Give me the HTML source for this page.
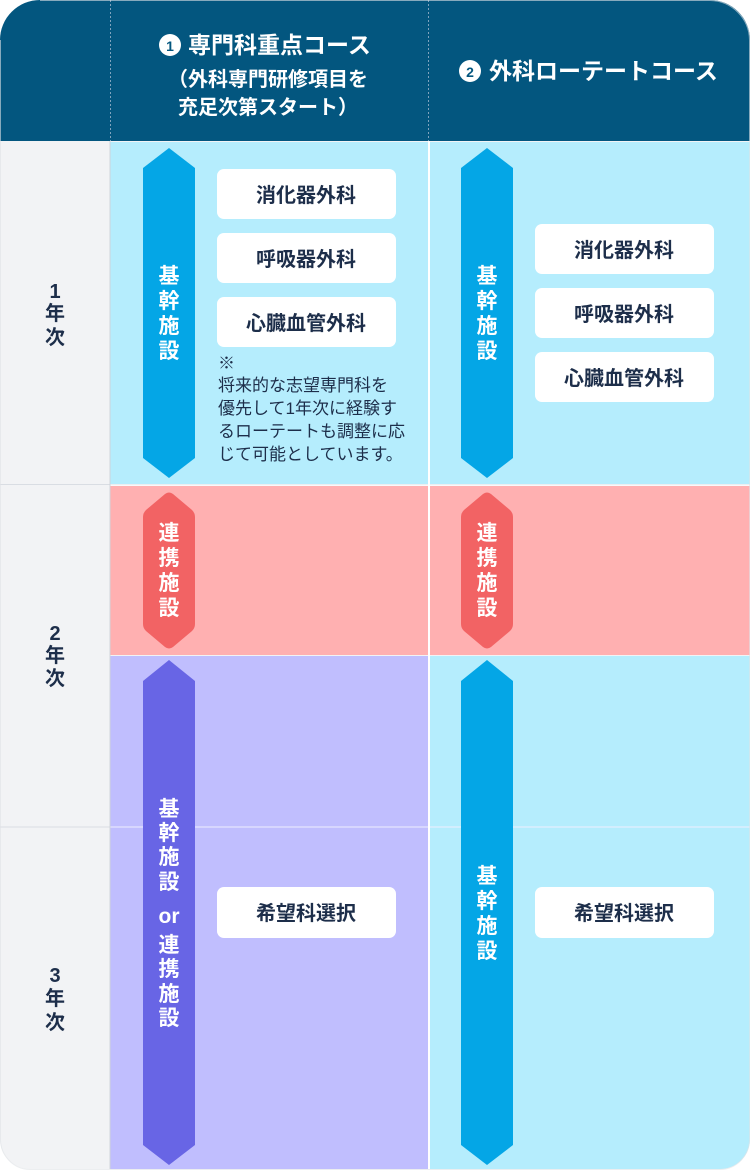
<!DOCTYPE html>
<html><head><meta charset="utf-8"><style>
html,body{margin:0;padding:0;background:#fff;}
svg{display:block;}
text{font-family:"Liberation Sans","Noto Sans CJK JP",sans-serif;}
</style></head><body>
<svg width="750" height="1171" viewBox="0 0 750 1171" xmlns="http://www.w3.org/2000/svg">
<defs>
<clipPath id="c"><path d="M40,0 H710 A40,40 0 0 1 750,40 V1139 A30,30 0 0 1 720,1169 H30 A30,30 0 0 1 0,1139 V40 A40,40 0 0 1 40,0Z"/></clipPath>
</defs>
<g clip-path="url(#c)">
<rect x="0" y="0" width="750" height="1171" fill="#f2f3f5"/>
<rect x="0" y="0" width="750" height="141" fill="#03567f"/>
<line x1="110.5" y1="0" x2="110.5" y2="141" stroke="#7fa3bd" stroke-dasharray="2,2"/>
<line x1="428.5" y1="0" x2="428.5" y2="141" stroke="#7fa3bd" stroke-dasharray="2,2"/>
<rect x="110" y="142" width="318" height="342" fill="#b5edfd"/>
<rect x="430" y="142" width="320" height="342" fill="#b5edfd"/>
<rect x="110" y="486" width="318" height="169" fill="#ffb0b1"/>
<rect x="430" y="486" width="320" height="169" fill="#ffb0b1"/>
<rect x="110" y="656" width="318" height="515" fill="#c0befe"/>
<rect x="430" y="656" width="320" height="515" fill="#b5edfd"/>
<line x1="0" y1="484.5" x2="750" y2="484.5" stroke="#d9dde3"/>
<line x1="110" y1="485" x2="750" y2="485" stroke="#fff"/>
<line x1="0" y1="827" x2="750" y2="827" stroke="#d9dde3"/>
<line x1="110" y1="827" x2="750" y2="827" stroke="#eef"/>
<line x1="429" y1="141" x2="429" y2="1171" stroke="#fff" stroke-width="2"/>
<line x1="110" y1="141" x2="110" y2="1171" stroke="#d0d4da"/>
</g>
<path d="M40,0.5 H710 A40,40 0 0 1 749.5,40 V1139 A30,30 0 0 1 720,1169.5 H30 A30,30 0 0 1 0.5,1139 V40" fill="none" stroke="#dfe2e6" stroke-width="1" opacity="0.6"/>

<!-- header -->
<circle cx="170" cy="45" r="11" fill="#fff"/>
<text x="170" y="51" font-size="14" font-weight="bold" fill="#03567f" text-anchor="middle">1</text>
<text x="188" y="53" font-size="23" font-weight="bold" fill="#fff">専門科重点コース</text>
<text x="268" y="86" font-size="20" font-weight="bold" fill="#fff" text-anchor="middle">（外科専門研修項目を</text>
<text x="268" y="114" font-size="20" font-weight="bold" fill="#fff" text-anchor="middle">充足次第スタート）</text>
<circle cx="470" cy="71" r="11" fill="#fff"/>
<text x="470" y="77" font-size="14" font-weight="bold" fill="#03567f" text-anchor="middle">2</text>
<text x="489" y="79" font-size="23" font-weight="bold" fill="#fff">外科ローテートコース</text>

<!-- year labels -->
<g font-size="20" font-weight="bold" fill="#1d2e4a" text-anchor="middle">
<text x="55" y="298">1</text><text x="55" y="320">年</text><text x="55" y="344">次</text>
<text x="55" y="640">2</text><text x="55" y="662">年</text><text x="55" y="685">次</text>
<text x="55" y="982">3</text><text x="55" y="1005">年</text><text x="55" y="1029">次</text>
</g>

<!-- arrows -->
<path d="M169,148 L195,168 V458 L169,478 L143,458 V168Z" fill="#04a6e6"/>
<path d="M487,148 L513,168 V458 L487,478 L461,458 V168Z" fill="#04a6e6"/>
<path d="M165,494 Q169,491 173,494 L192,510 Q195,513 195,517 V624 Q195,628 192,631 L173,647 Q169,650 165,647 L146,631 Q143,628 143,624 V517 Q143,513 146,510Z" fill="#f26364"/>
<path d="M483,494 Q487,491 491,494 L510,510 Q513,513 513,517 V624 Q513,628 510,631 L491,647 Q487,650 483,647 L464,631 Q461,628 461,624 V517 Q461,513 464,510Z" fill="#f26364"/>
<path d="M169,660 L195,681 V1145 L169,1165 L143,1145 V681Z" fill="#6865e5"/>
<path d="M487,660 L513,681 V1145 L487,1165 L461,1145 V681Z" fill="#04a6e6"/>

<g font-size="21" font-weight="bold" fill="#fff" text-anchor="middle">
<text x="169" y="283">基</text><text x="169" y="308">幹</text><text x="169" y="333">施</text><text x="169" y="358">設</text>
<text x="487" y="283">基</text><text x="487" y="308">幹</text><text x="487" y="333">施</text><text x="487" y="358">設</text>
<text x="169" y="540">連</text><text x="169" y="565">携</text><text x="169" y="590">施</text><text x="169" y="615">設</text>
<text x="487" y="540">連</text><text x="487" y="565">携</text><text x="487" y="590">施</text><text x="487" y="615">設</text>
<text x="169" y="816">基</text><text x="169" y="840">幹</text><text x="169" y="864">施</text><text x="169" y="889">設</text>
<text x="169" y="923">or</text>
<text x="169" y="952">連</text><text x="169" y="976">携</text><text x="169" y="1001">施</text><text x="169" y="1025">設</text>
<text x="487" y="883">基</text><text x="487" y="908">幹</text><text x="487" y="933">施</text><text x="487" y="958">設</text>
</g>

<!-- boxes -->
<g fill="#fff">
<rect x="217" y="169" width="179" height="50" rx="7"/>
<rect x="217" y="233" width="179" height="50" rx="7"/>
<rect x="217" y="297" width="179" height="50" rx="7"/>
<rect x="535" y="224" width="179" height="50" rx="7"/>
<rect x="535" y="288" width="179" height="50" rx="7"/>
<rect x="535" y="352" width="179" height="50" rx="7"/>
<rect x="217" y="887" width="179" height="51" rx="7"/>
<rect x="535" y="887" width="179" height="51" rx="7"/>
</g>
<g font-size="20" font-weight="bold" fill="#1d2e4a" text-anchor="middle">
<text x="306" y="202">消化器外科</text>
<text x="306" y="266">呼吸器外科</text>
<text x="306" y="330">心臓血管外科</text>
<text x="624" y="257">消化器外科</text>
<text x="624" y="321">呼吸器外科</text>
<text x="624" y="385">心臓血管外科</text>
<text x="306" y="920">希望科選択</text>
<text x="624" y="920">希望科選択</text>
</g>
<g font-size="17" fill="#1d2e4a">
<text x="218" y="369">※</text>
<text x="218" y="391">将来的な志望専門科を</text>
<text x="218" y="414">優先して1年次に経験す</text>
<text x="218" y="437">るローテートも調整に応</text>
<text x="218" y="460">じて可能としています。</text>
</g>
</svg>
</body></html>
